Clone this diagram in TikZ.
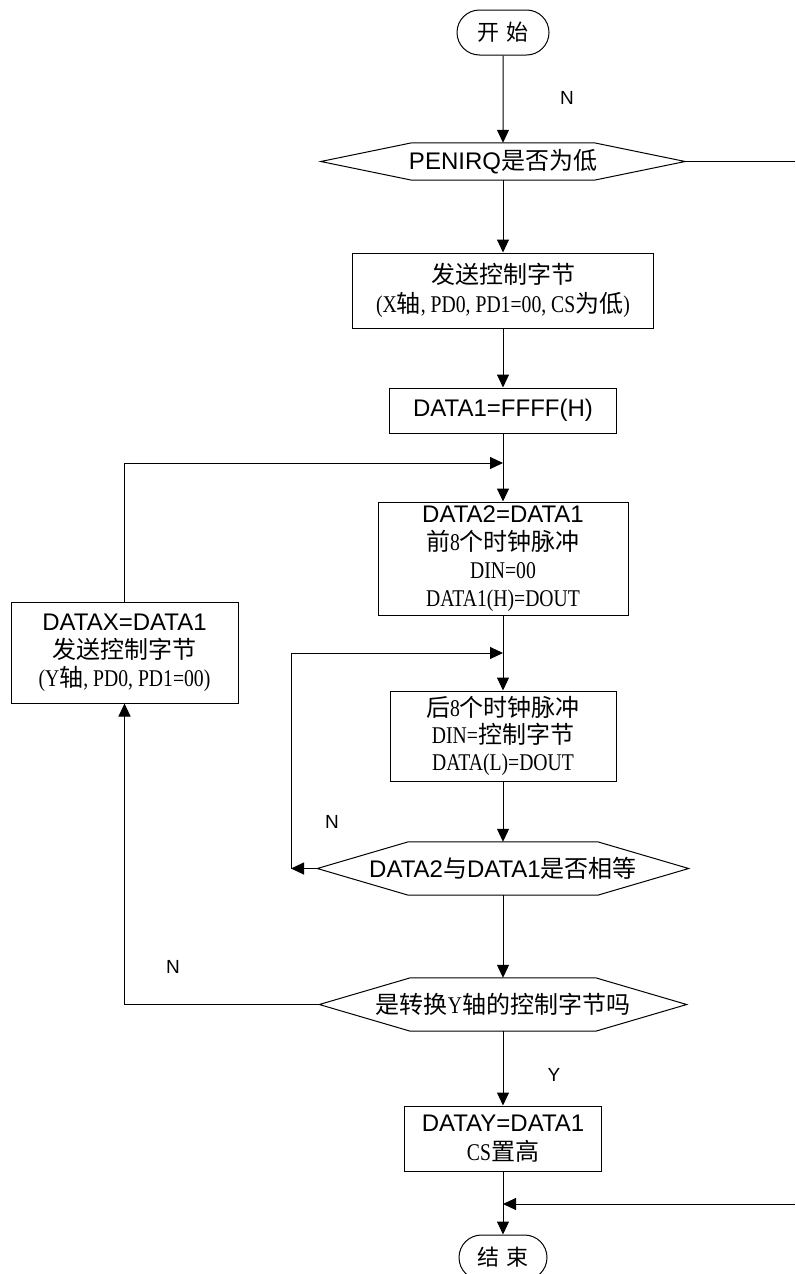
\documentclass[tikz,border=0pt]{standalone}
\usepackage{fontspec}
\setmainfont{Liberation Sans}
\newfontfamily\cjkfam{Noto Sans CJK SC}
\newfontfamily\simfam{Liberation Serif}[FakeStretch=0.82]
\newcommand\Zh[1]{{\cjkfam #1}}
\newcommand\Sm[1]{{\simfam #1}}
\usetikzlibrary{arrows.meta,shapes.misc}
\tikzset{
  ln/.style={line width=1pt},
  arr/.style={line width=1pt,-{Triangle[length=13pt,width=12pt]}},
  box/.style={draw,line width=1pt,rectangle,inner sep=0pt,align=center,font=\fontsize{24}{29}\selectfont},
  term/.style={draw,rounded rectangle,line width=1pt,inner sep=0pt,font=\fontsize{22}{26}\selectfont},
  dec/.style={rectangle,inner sep=0pt,align=center,font=\fontsize{24}{29}\selectfont},
  lab/.style={font=\fontsize{19}{22}\selectfont}
}
\newcommand\hexdraw[2]{\draw[ln] (#1.west) -- ([xshift=#2]#1.north west) -- ([xshift=-#2]#1.north east) -- (#1.east) -- ([xshift=-#2]#1.south east) -- ([xshift=#2]#1.south west) -- cycle;}
\begin{document}
\begin{tikzpicture}[x=1pt,y=-1pt]
\useasboundingbox (0,0) rectangle (795,1274);
\clip (0,0) rectangle (795,1274);
% nodes
\node[term,minimum width=92pt,minimum height=45pt] (start) at (503,32.5) {\Zh{开\hspace{8pt}始}};
\node[dec,minimum width=364pt,minimum height=37pt] (d1) at (503,161.5) {PENIRQ\Zh{是否为低}};
\hexdraw{d1}{91pt}
\node[box,minimum width=301pt,minimum height=75pt] (b1) at (503,290.5) {\Zh{发送控制字节}\\ \Sm{(X}\Zh{轴}\Sm{, PD0, PD1=00, CS}\Zh{为低}\Sm{)}};
\node[box,minimum width=227pt,minimum height=45pt] (b2) at (503,410.5) {DATA1=FFFF(H)};
\node[box,minimum width=250pt,minimum height=113pt,font=\fontsize{24}{28}\selectfont] (b3) at (503,558.5) {DATA2=DATA1\\ \Zh{前}\Sm{8}\Zh{个时钟脉冲}\\ \Sm{DIN=00}\\ \Sm{DATA1(H)=DOUT}};
\node[box,minimum width=226pt,minimum height=90pt,font=\fontsize{24}{27}\selectfont] (b4) at (503,736) {\Zh{后}\Sm{8}\Zh{个时钟脉冲}\\ \Sm{DIN=}\Zh{控制字节}\\ \Sm{DATA(L)=DOUT}};
\node[dec,minimum width=371pt,minimum height=53pt] (d2) at (503,868.5) {DATA2\Zh{与}DATA1\Zh{是否相等}};
\hexdraw{d2}{91pt}
\node[dec,minimum width=367pt,minimum height=53pt] (d3) at (503,1004.5) {\Zh{是转换}\Sm{Y}\Zh{轴的控制字节吗}};
\hexdraw{d3}{91pt}
\node[box,minimum width=227pt,minimum height=101pt,font=\fontsize{24}{28}\selectfont] (bx) at (124.5,652.5) {DATAX=DATA1\\ \Zh{发送控制字节}\\ \Sm{(Y}\Zh{轴}\Sm{, PD0, PD1=00)}};
\node[box,minimum width=197pt,minimum height=65pt] (by) at (503,1138.5) {DATAY=DATA1\\ \Sm{CS}\Zh{置高}};
\node[term,minimum width=88pt,minimum height=45pt] (stop) at (503,1257.5) {\Zh{结\hspace{8pt}束}};
% labels
\node[lab] (n1) at (567,98) {N};
\node[lab] (n2) at (332,822) {N};
\node[lab] (n3) at (173,967) {N};
\node[lab] (y1) at (554,1075) {Y};
% coordinates
\coordinate (r1) at (795,161.5);
\coordinate (j1) at (503,463);
\coordinate (c2) at (291,868.5);
\coordinate (j2) at (503,653);
\coordinate (c3) at (124.5,1004.5);
\coordinate (r2) at (795,1204);
\coordinate (j3) at (503,1204);
% connectors
\draw[arr] (start) -- (d1);
\draw[ln] (d1.east) -- (r1);
\draw[arr] (d1) -- (b1);
\draw[arr] (b1) -- (b2);
\draw[arr] (b2) -- (b3);
\draw[arr] (bx.north) |- (j1);
\draw[arr] (b3) -- (b4);
\draw[arr] (b4) -- (d2);
\draw[arr] (d2.west) -- (c2);
\draw[arr] (c2) |- (j2);
\draw[arr] (d2) -- (d3);
\draw[ln] (d3.west) -- (c3);
\draw[arr] (c3) -- (bx.south);
\draw[arr] (d3) -- (by);
\draw[arr] (by) -- (stop);
\draw[arr] (r2) -- (j3);
\end{tikzpicture}
\end{document}
